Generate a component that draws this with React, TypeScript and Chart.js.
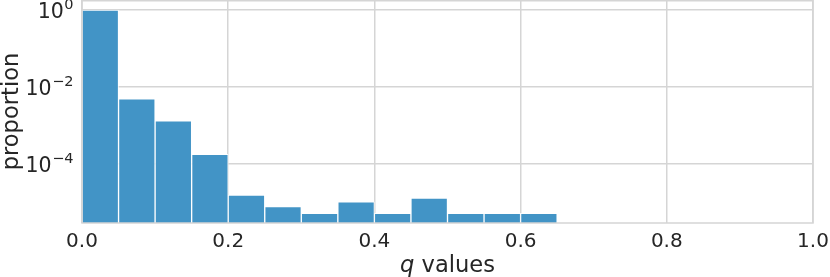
import React, { useEffect, useRef } from "react";
import { Chart, registerables } from "chart.js";

Chart.register(...registerables);

const binCenters = [0.025, 0.075, 0.125, 0.175, 0.225, 0.275, 0.325, 0.375, 0.425, 0.475, 0.525, 0.575, 0.625];
const proportions = [0.9935, 4.9e-3, 1.33e-3, 1.78e-4, 1.56e-5, 7.8e-6, 5.2e-6, 1.04e-5, 5.2e-6, 1.3e-5, 5.2e-6, 5.2e-6, 5.2e-6];
const xTickValues = [0, 0.2, 0.4, 0.6, 0.8, 1.0];
const yTickValues = [1e-4, 1e-2, 1];
const yTickExponents = ["−4", "−2", "0"];
const yTickBase = "10";
const xTitleItalic = "q";
const xTitleRest = " values";
const yTitle = "proportion";

const FONT = "'DejaVu Sans', sans-serif";
const TEXT = "#262626";
const GRID = "#d5d5d5";

export default function App() {
  const ref = useRef<HTMLCanvasElement | null>(null);
  useEffect(() => {
    if (!ref.current) return;
    const framePlugin = {
      id: "frameAndTitles",
      afterDatasetsDraw(chart: any) {
        const { ctx, chartArea } = chart;
        ctx.save();
        ctx.strokeStyle = GRID;
        ctx.lineWidth = 1.5;
        ctx.strokeRect(chartArea.left, chartArea.top + 0.75, chartArea.right - chartArea.left, chartArea.bottom - chartArea.top - 0.75);
        ctx.restore();
      },
      afterDraw(chart: any) {
        const { ctx, chartArea } = chart;
        const yScale = chart.scales.y;
        ctx.save();
        ctx.fillStyle = TEXT;
        ctx.textBaseline = "alphabetic";
        yTickValues.forEach((v, i) => {
          const py = yScale.getPixelForValue(v);
          const base = py + 8;
          ctx.textAlign = "right";
          ctx.font = `14.5px ${FONT}`;
          const exp = yTickExponents[i];
          const ew = ctx.measureText(exp).width;
          ctx.fillText(exp, 73.5, base - 9);
          ctx.font = `20.5px ${FONT}`;
          ctx.fillText(yTickBase, 73.5 - ew - 0.5, base);
        });
        const italic = `italic 22.6px ${FONT}`;
        const normal = `22.6px ${FONT}`;
        ctx.font = italic;
        const w1 = ctx.measureText(xTitleItalic).width;
        ctx.font = normal;
        const w2 = ctx.measureText(xTitleRest).width;
        const cx = (chartArea.left + chartArea.right) / 2;
        const x0 = cx - (w1 + w2) / 2;
        ctx.font = italic;
        ctx.textAlign = "left";
        ctx.fillText(xTitleItalic, x0, 271.5);
        ctx.font = normal;
        ctx.fillText(xTitleRest, x0 + w1, 271.5);
        ctx.translate(12, (chartArea.top + chartArea.bottom) / 2);
        ctx.rotate(-Math.PI / 2);
        ctx.textAlign = "center";
        ctx.textBaseline = "middle";
        ctx.font = normal;
        ctx.fillText(yTitle, 0, 0);
        ctx.restore();
      },
    };
    const chart = new Chart(ref.current, {
      type: "bar",
      data: {
        datasets: [
          {
            data: binCenters.map((x, i) => ({ x, y: proportions[i] })),
            backgroundColor: "rgb(66,148,198)",
            borderColor: "rgba(255,255,255,0.85)",
            borderWidth: 1,
            barPercentage: 1,
            categoryPercentage: 1,
          },
        ],
      },
      options: {
        animation: false,
        responsive: false,
        devicePixelRatio: 1,
        layout: { padding: { left: 0, right: 17, top: 0, bottom: 0 } },
        plugins: { legend: { display: false }, tooltip: { enabled: false } },
        scales: {
          x: {
            type: "linear",
            min: 0,
            max: 1,
            offset: false,
            afterBuildTicks: (s: any) => {
              s.ticks = xTickValues.map((value) => ({ value }));
            },
            ticks: {
              padding: 7,
              color: TEXT,
              font: { family: FONT, size: 20 },
              callback: (v: any) => Number(v).toFixed(1),
              maxRotation: 0,
              autoSkip: false,
            },
            grid: { color: GRID, lineWidth: 1.5, drawTicks: false, offset: false },
            border: { display: false },
            afterFit: (s: any) => {
              s.height = 54;
              s.paddingLeft = 0;
              s.paddingRight = 0;
            },
          },
          y: {
            type: "logarithmic",
            min: 2.93e-6,
            max: 1.82,
            ticks: {
              padding: 7,
              color: TEXT,
              font: { family: FONT, size: 20 },
              callback: () => "",
            },
            afterBuildTicks: (s: any) => {
              s.ticks = yTickValues.map((value) => ({ value }));
            },
            grid: { color: GRID, lineWidth: 1.5, drawTicks: false },
            border: { display: false },
            afterFit: (s: any) => {
              s.width = 82;
              s.paddingTop = 0;
              s.paddingBottom = 0;
            },
          },
        },
      },
      plugins: [framePlugin],
    } as any);
    return () => chart.destroy();
  }, []);
  return (
    <div style={{ position: "fixed", left: 0, top: 0, width: 830, height: 277, background: "#fff" }}>
      <canvas ref={ref} width={830} height={277} style={{ display: "block", width: 830, height: 277 }} />
    </div>
  );
}
